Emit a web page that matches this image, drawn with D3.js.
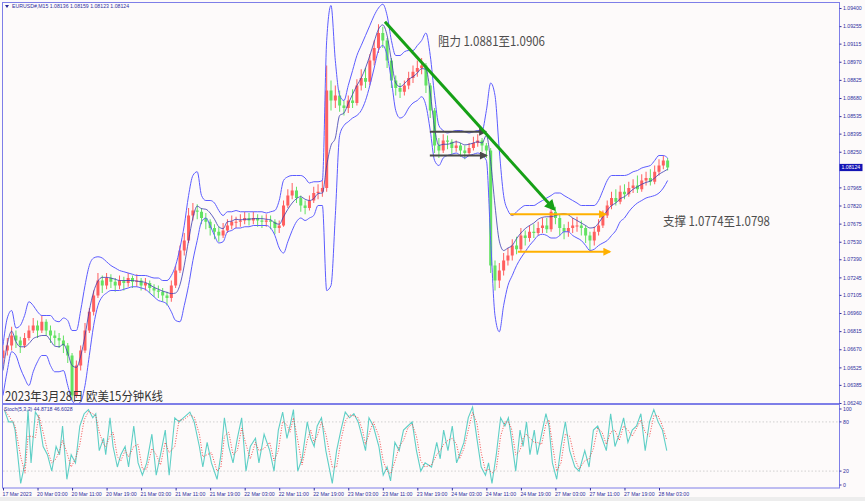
<!DOCTYPE html>
<html><head><meta charset="utf-8">
<script src="https://cdn.jsdelivr.net/npm/d3@7"></script>
<style>body{margin:0;background:#fff}svg{display:block}</style>
</head><body><svg id="c" width="865" height="501"></svg>
<script>
// ---------- data (hourly aggregation of the EURUSD M15 chart) ----------
const timeLabels = ["17 Mar 2023","20 Mar 03:00","20 Mar 11:00","20 Mar 19:00","21 Mar 03:00","21 Mar 11:00","21 Mar 19:00","22 Mar 03:00","22 Mar 11:00","22 Mar 19:00","23 Mar 03:00","23 Mar 11:00","23 Mar 19:00","24 Mar 03:00","24 Mar 11:00","24 Mar 19:00","27 Mar 03:00","27 Mar 11:00","27 Mar 19:00","28 Mar 03:00"];
const priceTicks = ["1.09400","1.09255","1.09115","1.08970","1.08825","1.08680","1.08535","1.08395","1.08250","1.07965","1.07820","1.07675","1.07530","1.07390","1.07245","1.07105","1.06960","1.06815","1.06670","1.06525","1.06385","1.06240"];
const stochLevels = [100, 80, 20, 0];
const firstOpen = 1.0660;
const closes = [
1.0666,1.0670,1.0678,1.0674,1.0670,1.0676,1.0682,1.0686,1.0682,1.0689,
1.0682,1.0678,1.0676,1.0674,1.0670,1.0662,1.0630,1.0654,1.0666,1.0682,
1.0697,1.0710,1.0722,1.0718,1.0724,1.0721,1.0718,1.0722,1.0720,1.0724,
1.0721,1.0722,1.0718,1.0720,1.0716,1.0714,1.0713,1.0710,1.0708,1.0718,
1.0730,1.0746,1.0754,1.0774,1.0778,1.0777,1.0772,1.0769,1.0764,1.0761,
1.0758,1.0762,1.0766,1.0769,1.0769,1.0770,1.0772,1.0770,1.0772,1.0770,
1.0769,1.0770,1.0769,1.0764,1.0766,1.0782,1.0790,1.0794,1.0788,1.0782,
1.0780,1.0786,1.0792,1.0793,1.0796,1.0874,1.0866,1.0870,1.0862,1.0860,
1.0866,1.0864,1.0878,1.0884,1.0881,1.0898,1.0908,1.0920,1.0914,1.0898,
1.0882,1.0876,1.0873,1.0878,1.0884,1.0889,1.0892,1.0894,1.0878,1.0858,
1.0830,1.0826,1.0834,1.0833,1.0828,1.0830,1.0826,1.0824,1.0828,1.0832,
1.0834,1.0830,1.0826,1.0734,1.0722,1.0730,1.0738,1.0742,1.0750,1.0747,
1.0758,1.0756,1.0761,1.0760,1.0764,1.0766,1.0763,1.0777,1.0772,1.0764,
1.0761,1.0764,1.0766,1.0766,1.0764,1.0758,1.0754,1.0761,1.0766,1.0774,
1.0782,1.0788,1.0785,1.0793,1.0791,1.0796,1.0798,1.0795,1.0802,1.0804,
1.0801,1.0809,1.0814,1.0818,1.08124];
const highs = [
1.0670,1.0676,1.0685,1.0682,1.0677,1.0680,1.0686,1.0692,1.0690,1.0694,
1.0691,1.0686,1.0682,1.0680,1.0678,1.0672,1.0664,1.0658,1.0670,1.0688,
1.0700,1.0714,1.0728,1.0726,1.0728,1.0727,1.0724,1.0726,1.0725,1.0728,
1.0726,1.0727,1.0724,1.0724,1.0722,1.0719,1.0718,1.0716,1.0713,1.0722,
1.0734,1.0750,1.0760,1.0780,1.0784,1.0783,1.0780,1.0776,1.0771,1.0767,
1.0765,1.0768,1.0771,1.0774,1.0773,1.0775,1.0777,1.0776,1.0777,1.0775,
1.0774,1.0775,1.0774,1.0771,1.0770,1.0786,1.0795,1.0800,1.0797,1.0790,
1.0786,1.0790,1.0797,1.0799,1.0802,1.0894,1.0882,1.0878,1.0874,1.0866,
1.0870,1.0875,1.0883,1.0891,1.0892,1.0903,1.0914,1.0927,1.0925,1.0916,
1.0900,1.0886,1.0880,1.0882,1.0889,1.0894,1.0898,1.0900,1.0896,1.0880,
1.0860,1.0836,1.0839,1.0838,1.0835,1.0834,1.0832,1.0830,1.0832,1.0837,
1.0839,1.0836,1.0832,1.0828,1.0738,1.0736,1.0744,1.0748,1.0755,1.0757,
1.0764,1.0762,1.0766,1.0767,1.0769,1.0772,1.0772,1.0782,1.0781,1.0775,
1.0767,1.0769,1.0772,1.0773,1.0770,1.0766,1.0761,1.0765,1.0771,1.0778,
1.0786,1.0793,1.0795,1.0798,1.0799,1.0801,1.0803,1.0806,1.0807,1.0809,
1.0811,1.0814,1.0819,1.0822,1.0820];
const lows = [
1.0655,1.0662,1.0666,1.0668,1.0664,1.0668,1.0674,1.0680,1.0676,1.0680,
1.0678,1.0672,1.0670,1.0668,1.0664,1.0656,1.0626,1.0628,1.0650,1.0664,
1.0680,1.0694,1.0708,1.0712,1.0715,1.0716,1.0713,1.0715,1.0714,1.0717,
1.0716,1.0717,1.0714,1.0714,1.0712,1.0709,1.0708,1.0705,1.0702,1.0705,
1.0716,1.0728,1.0742,1.0752,1.0770,1.0771,1.0767,1.0763,1.0758,1.0755,
1.0753,1.0756,1.0760,1.0763,1.0764,1.0765,1.0767,1.0766,1.0767,1.0765,
1.0764,1.0765,1.0763,1.0759,1.0760,1.0765,1.0780,1.0787,1.0784,1.0777,
1.0775,1.0778,1.0784,1.0787,1.0789,1.0793,1.0858,1.0860,1.0857,1.0854,
1.0856,1.0860,1.0862,1.0874,1.0876,1.0878,1.0894,1.0904,1.0908,1.0892,
1.0876,1.0870,1.0868,1.0870,1.0875,1.0880,1.0885,1.0887,1.0872,1.0852,
1.0824,1.0820,1.0824,1.0827,1.0823,1.0825,1.0821,1.0819,1.0822,1.0826,
1.0829,1.0825,1.0820,1.0728,1.0714,1.0716,1.0726,1.0734,1.0738,1.0743,
1.0745,1.0750,1.0753,1.0756,1.0758,1.0760,1.0760,1.0761,1.0767,1.0758,
1.0755,1.0757,1.0760,1.0761,1.0758,1.0752,1.0746,1.0750,1.0758,1.0764,
1.0772,1.0779,1.0782,1.0783,1.0787,1.0789,1.0792,1.0792,1.0793,1.0798,
1.0798,1.0799,1.0806,1.0811,1.0810];
const bbUpper = [
1.0670,1.0692,1.0698,1.0684,1.0686,1.0694,1.0705,1.0702,1.0697,1.0694,
1.0694,1.0694,1.0690,1.0689,1.0692,1.0690,1.0682,1.0682,1.0698,1.0718,
1.0734,1.0740,1.0741,1.0740,1.0737,1.0734,1.0732,1.0730,1.0729,1.0728,
1.0727,1.0726,1.0726,1.0726,1.0725,1.0724,1.0724,1.0722,1.0722,1.0726,
1.0734,1.0748,1.0766,1.0790,1.0806,1.0809,1.0790,1.0786,1.0786,1.0784,
1.0778,1.0774,1.0777,1.0777,1.0778,1.0777,1.0777,1.0777,1.0777,1.0777,
1.0777,1.0776,1.0777,1.0778,1.0786,1.0802,1.0805,1.0806,1.0806,1.0806,
1.0804,1.0800,1.0801,1.0801,1.0802,1.0914,1.0942,1.0898,1.0870,1.0866,
1.0878,1.0890,1.0902,1.0910,1.0918,1.0926,1.0934,1.0940,1.0943,1.0934,
1.0914,1.0902,1.0902,1.0905,1.0906,1.0906,1.0910,1.0914,1.0920,1.0902,
1.0870,1.0846,1.0842,1.0840,1.0841,1.0842,1.0842,1.0841,1.0840,1.0841,
1.0842,1.0842,1.0858,1.0880,1.0870,1.0826,1.0790,1.0778,1.0774,1.0777,
1.0780,1.0782,1.0782,1.0782,1.0784,1.0786,1.0788,1.0790,1.0792,1.0792,
1.0790,1.0788,1.0786,1.0784,1.0782,1.0782,1.0782,1.0782,1.0786,1.0794,
1.0802,1.0806,1.0806,1.0806,1.0806,1.0807,1.0809,1.0810,1.0812,1.0813,
1.0814,1.0818,1.0822,1.0822,1.0820];
const bbLower = [
1.0630,1.0650,1.0665,1.0662,1.0652,1.0644,1.0638,1.0649,1.0657,1.0662,
1.0662,1.0654,1.0649,1.0649,1.0650,1.0638,1.0626,1.0623,1.0625,1.0638,
1.0662,1.0686,1.0702,1.0709,1.0712,1.0714,1.0714,1.0714,1.0715,1.0716,
1.0717,1.0717,1.0716,1.0715,1.0712,1.0709,1.0706,1.0705,1.0703,1.0697,
1.0690,1.0689,1.0702,1.0718,1.0738,1.0754,1.0769,1.0772,1.0766,1.0758,
1.0752,1.0753,1.0761,1.0762,1.0764,1.0764,1.0765,1.0765,1.0766,1.0766,
1.0766,1.0766,1.0764,1.0758,1.0748,1.0744,1.0753,1.0762,1.0769,1.0772,
1.0770,1.0772,1.0774,1.0782,1.0782,1.0714,1.0718,1.0774,1.0838,1.0846,
1.0849,1.0852,1.0854,1.0858,1.0866,1.0878,1.0892,1.0906,1.0910,1.0902,
1.0882,1.0858,1.0852,1.0854,1.0860,1.0864,1.0866,1.0869,1.0862,1.0842,
1.0818,1.0814,1.0820,1.0822,1.0823,1.0824,1.0822,1.0820,1.0822,1.0823,
1.0824,1.0822,1.0818,1.0754,1.0694,1.0681,1.0702,1.0718,1.0726,1.0734,
1.0740,1.0745,1.0750,1.0754,1.0758,1.0759,1.0758,1.0756,1.0756,1.0758,
1.0761,1.0761,1.0758,1.0756,1.0754,1.0750,1.0746,1.0747,1.0750,1.0752,
1.0754,1.0758,1.0762,1.0769,1.0772,1.0777,1.0781,1.0784,1.0786,1.0788,
1.0789,1.0790,1.0792,1.0796,1.0802];
// stochastic %K main line: [hour index, value]
const stochK = [[0.3,95],[1.3,80],[2.3,80],[2.8,70],[4.1,5],[5.1,30],[5.8,95],[6.5,30],[7.5,92],[8.3,85],[9.3,50],[10.3,40],[11.3,20],[12.3,50],[13.1,40],[13.8,75],[14.8,10],[15.8,40],[16.8,30],[17.8,75],[18.8,90],[19.8,95],[20.8,85],[21.5,90],[22.3,45],[23.3,60],[23.8,40],[24.8,85],[25.5,50],[26.5,25],[27.3,40],[28.3,50],[29.1,25],[30.3,75],[31.3,30],[32.3,15],[33.3,30],[34.5,65],[35.5,15],[36.5,40],[37.6,70],[38.5,15],[39.8,85],[40.8,80],[41.8,85],[43.3,92],[44.3,80],[45.5,50],[46.3,25],[47.3,55],[48.3,30],[49.6,10],[50.5,40],[51.3,85],[52.3,50],[53.3,30],[54.3,60],[55.3,85],[56.3,20],[57.3,50],[58.5,60],[59.3,30],[60.5,65],[61.8,45],[62.8,20],[63.8,70],[64.8,92],[65.8,60],[66.5,75],[67.3,95],[68.3,20],[69.3,35],[70.5,80],[71.3,60],[72.1,50],[72.8,75],[73.8,85],[74.8,45],[76.3,5],[77.3,45],[78.3,70],[79.3,92],[80.3,85],[81.3,90],[82.3,80],[83.3,60],[84,45],[84.8,85],[85.8,75],[87.1,50],[88.1,15],[89,25],[89.8,8],[90.8,55],[91.8,45],[92.8,70],[93.8,75],[94.8,80],[95.8,45],[96.8,20],[97.8,30],[99.3,25],[100.5,55],[101.3,35],[102.1,70],[103.1,45],[104.1,75],[105.1,30],[105.8,40],[106.8,55],[107.8,85],[108.8,98],[109.8,60],[110.8,25],[111.8,15],[112.5,30],[113.3,5],[114.3,40],[115.3,85],[116.3,75],[117.1,85],[117.8,60],[118.8,20],[119.8,70],[120.5,50],[121.3,80],[122.1,40],[123.1,70],[123.8,40],[124.8,65],[125.8,90],[126.5,75],[127.3,30],[128.3,10],[129.3,50],[130.3,80],[131.3,45],[132.5,25],[133.5,20],[134.8,45],[135.8,25],[136.8,70],[137.8,75],[138.8,60],[139.8,45],[140.8,90],[141.8,50],[142.8,65],[143.8,85],[144.8,55],[145.8,70],[146.8,75],[147.8,90],[148.8,45],[149.8,80],[150.8,95],[151.8,80],[152.8,70],[153.8,45]];
// annotations in data space: [hour, price]
const trendArrow = [[88.5,1.0929],[127.7,1.0779]];
const rangeArrows = [[[98.9,1.0841],[111.8,1.0841]],[[98.9,1.0822],[112.0,1.0822]]];
const supportArrows = [[[117.5,1.0775],[139.6,1.0775]],[[119.3,1.0745],[140.6,1.0745]]];

// ---------- drawing ----------
const svg = d3.select('#c');
const W = 865, H = 501;
const L = 3, R = 839.5, T = 3, MB = 404, SB = 488;
svg.append('rect').attr('width',W).attr('height',H).attr('fill','#fdfafa');
svg.append('rect').attr('x',0).attr('y',497).attr('width',W).attr('height',4).attr('fill','#ededed');

const x = d3.scaleLinear().domain([0,152]).range([3,659]);
const y = d3.scaleLinear().domain([1.0624,1.0940]).range([403,8]);
const ys = d3.scaleLinear().domain([0,100]).range([487.5,405.5]);

const defs = svg.append('defs');
defs.append('clipPath').attr('id','mainClip').append('rect').attr('x',L).attr('y',T).attr('width',R-L).attr('height',MB-T);
defs.append('clipPath').attr('id','stClip').append('rect').attr('x',L).attr('y',MB+1).attr('width',R-L).attr('height',SB-MB-1);
function marker(id,color,w,h){
  defs.append('marker').attr('id',id).attr('viewBox','0 0 10 10').attr('refX',8).attr('refY',5)
   .attr('markerUnits','userSpaceOnUse').attr('markerWidth',w).attr('markerHeight',h).attr('orient','auto')
   .append('path').attr('d','M0,0 L10,5 L0,10 Z').attr('fill',color);
}
marker('mGreen','#16a016',12,11);
marker('mGray','#4a4a4a',9,8);
marker('mOrange','#ffb000',9,8);

const main = svg.append('g').attr('clip-path','url(#mainClip)');
const candles = closes.map((c,i)=>({i, o: i? closes[i-1] : firstOpen, c, h: highs[i], l: lows[i]}));
const up = '#ff5f5f', dn = '#62e262';
const cg = main.append('g');
cg.selectAll('line').data(candles).join('line')
  .attr('x1',d=>x(d.i)).attr('x2',d=>x(d.i)).attr('y1',d=>y(d.h)).attr('y2',d=>y(d.l))
  .attr('stroke',d=>d.c>=d.o?up:dn).attr('stroke-width',1);
cg.selectAll('rect').data(candles).join('rect')
  .attr('x',d=>x(d.i)-1.5).attr('width',3)
  .attr('y',d=>y(Math.max(d.o,d.c))).attr('height',d=>Math.max(1,Math.abs(y(d.o)-y(d.c))))
  .attr('fill',d=>d.c>=d.o?up:dn);

const bandLine = d3.line().x((d,i)=>x(i)).y(d=>y(d)).curve(d3.curveMonotoneX);
const bbMid = bbUpper.map((u,i)=>(u+bbLower[i])/2);
main.append('path').attr('d',bandLine(bbUpper)).attr('fill','none').attr('stroke','#5c5cff').attr('stroke-width',1);
main.append('path').attr('d',bandLine(bbLower)).attr('fill','none').attr('stroke','#5c5cff').attr('stroke-width',1);
main.append('path').attr('d',bandLine(bbMid)).attr('fill','none').attr('stroke','#3b3bb0').attr('stroke-width',0.8);

// annotation arrows
const seg = (p)=>({x1:x(p[0][0]),y1:y(p[0][1]),x2:x(p[1][0]),y2:y(p[1][1])});
function arrow(p,color,w,m){
  const s = seg(p);
  main.append('line').attr('x1',s.x1).attr('y1',s.y1).attr('x2',s.x2).attr('y2',s.y2)
    .attr('stroke',color).attr('stroke-width',w).attr('marker-end',`url(#${m})`);
}
rangeArrows.forEach(p=>arrow(p,'#4a4a4a',2.2,'mGray'));
supportArrows.forEach(p=>arrow(p,'#ffb000',2.2,'mOrange'));
arrow(trendArrow,'#16a016',3,'mGreen');

// annotation texts
const cjk = '"Noto Sans CJK SC","Noto Sans",sans-serif';
svg.append('text').attr('x',438).attr('y',46).attr('font-family',cjk).attr('font-size',12.5)
  .attr('fill','#4d4d4d').attr('textLength',107).attr('lengthAdjust','spacingAndGlyphs').text('阻力 1.0881至1.0906');
svg.append('text').attr('x',663).attr('y',226).attr('font-family',cjk).attr('font-size',12.5)
  .attr('fill','#4d4d4d').attr('textLength',107).attr('lengthAdjust','spacingAndGlyphs').text('支撑 1.0774至1.0798');
svg.append('text').attr('x',5).attr('y',401).attr('font-family',cjk).attr('font-size',12.5)
  .attr('fill','#333').attr('textLength',158).attr('lengthAdjust','spacingAndGlyphs').text('2023年3月28日 欧美15分钟K线');

// stochastic panel
const st = svg.append('g').attr('clip-path','url(#stClip)');
[80,20].forEach(v=>st.append('line').attr('x1',L).attr('x2',R).attr('y1',ys(v)).attr('y2',ys(v))
  .attr('stroke','#c8c8c8').attr('stroke-width',0.8).attr('stroke-dasharray','1.5,2'));
const sLine = d3.line().x(d=>x(d[0])).y(d=>ys(d[1]));
const stochD = stochK.map((d,i)=>[d[0], i? (stochK[i-1][1]+d[1])/2 : d[1]]);
st.append('path').attr('d',sLine(stochK)).attr('fill','none').attr('stroke','#5fcfc6').attr('stroke-width',1.1);
st.append('path').attr('d',sLine(stochD)).attr('fill','none').attr('stroke','#f03c3c').attr('stroke-width',0.9).attr('stroke-dasharray','1,1.6');

// frames
const fc = '#7e7ee8';
svg.append('rect').attr('x',L-0.5).attr('y',T-0.5).attr('width',R-L+0.5).attr('height',SB-T+0.5).attr('fill','none').attr('stroke',fc).attr('stroke-width',1);
svg.append('line').attr('x1',L-0.5).attr('x2',R).attr('y1',MB).attr('y2',MB).attr('stroke',fc).attr('stroke-width',2);

// axes
const tickFont = '"Liberation Sans",Arial,sans-serif';
const tcol = '#2f2fa0';
const ya = svg.append('g').attr('transform',`translate(${R},0)`)
  .call(d3.axisRight(y).tickValues(priceTicks.map(Number)).tickFormat((d,i)=>priceTicks[i]).tickSize(2).tickPadding(1.5));
ya.select('.domain').remove();
ya.selectAll('line').attr('stroke',tcol);
ya.selectAll('text').attr('font-family',tickFont).attr('font-size',5.2).attr('fill',tcol);

const sa = svg.append('g').attr('transform',`translate(${R},0)`)
  .call(d3.axisRight(ys).tickValues(stochLevels).tickFormat(d=>d).tickSize(2).tickPadding(1.5));
sa.select('.domain').remove();
sa.selectAll('line').attr('stroke',tcol);
sa.selectAll('.tick').attr('transform',d=>`translate(0,${ys(d)+(d===100?3.5:d===0?-2.5:0)})`);
sa.selectAll('text').attr('font-family',tickFont).attr('font-size',5.2).attr('fill',tcol);

const xa = svg.append('g').attr('transform',`translate(0,${SB})`)
  .call(d3.axisBottom(x).tickValues(d3.range(0,153,8)).tickFormat((d,i)=>timeLabels[i]).tickSize(2.5).tickPadding(1.5));
xa.select('.domain').remove();
xa.selectAll('line').attr('stroke',tcol);
xa.selectAll('text').attr('font-family',tickFont).attr('font-size',5.2).attr('fill',tcol).attr('text-anchor','start').attr('dx',-1);

// current price label
const last = closes[closes.length-1];
svg.append('rect').attr('x',R).attr('y',y(last)-3.6).attr('width',23).attr('height',7.2).attr('fill','#1414b4');
svg.append('text').attr('x',R+2).attr('y',y(last)).attr('dy','0.35em').attr('font-family',tickFont).attr('font-size',5.2).attr('fill','#fff').text(last.toFixed(5));

// header labels
svg.append('path').attr('d','M5,5 L9,5 L7,8 Z').attr('fill','#2a2a9a');
svg.append('text').attr('x',12).attr('y',8.2).attr('font-family',tickFont).attr('font-size',5.2).attr('fill',tcol)
  .text('EURUSD#,M15  1.08136 1.08159 1.08123 1.08124');
svg.append('text').attr('x',4).attr('y',411).attr('font-family',tickFont).attr('font-size',5.2).attr('fill',tcol)
  .text('Stoch(5,3,3) 44.8718 46.6028');
</script></body></html>
